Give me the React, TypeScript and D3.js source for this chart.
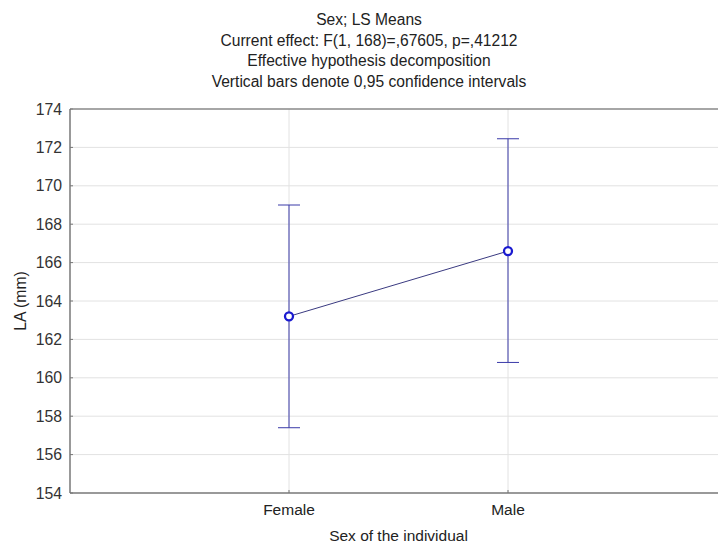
import React from "react";
import * as d3 from "d3";

const categories = ["Female", "Male"];
const means = [163.2, 166.6];
const lower = [157.4, 160.8];
const upper = [169.0, 172.45];
const yTicks = [154, 156, 158, 160, 162, 164, 166, 168, 170, 172, 174];
const titleLines = [
  "Sex; LS Means",
  "Current effect: F(1, 168)=,67605, p=,41212",
  "Effective hypothesis decomposition",
  "Vertical bars denote 0,95 confidence intervals",
];

const W = 718;
const H = 545;
const left = 70;
const right = 727;
const top = 109;
const bottom = 493;
const FONT = "'Liberation Sans', Arial, sans-serif";

export default function App() {
  const x = d3.scalePoint<string>().domain(categories).range([left, right]).padding(1);
  const y = d3.scaleLinear().domain([154, 174]).range([bottom, top]);
  const line = d3
    .line<number>()
    .x((_, i) => x(categories[i]) as number)
    .y((d) => y(d));

  return (
    <svg
      width={W}
      height={H}
      style={{ position: "absolute", left: 0, top: 0, background: "#fff" }}
      fontFamily={FONT}
    >
      <rect x={0} y={0} width={W} height={H} fill="#fff" />
      {titleLines.map((t, i) => (
        <text key={i} x={369} y={25 + i * 20.7} textAnchor="middle" fontSize={15.6} fill="#222">
          {t}
        </text>
      ))}
      {/* horizontal gridlines */}
      {yTicks.map((t) => (
        <g key={t}>
          {t !== 154 && t !== 174 && (
            <line x1={left} x2={W} y1={y(t)} y2={y(t)} stroke="#e2e2e2" strokeWidth={1} />
          )}
          <line x1={left} x2={left + 3} y1={y(t)} y2={y(t)} stroke="#777" strokeWidth={1} />
          <text x={62} y={y(t) + 5.5} textAnchor="end" fontSize={15.8} fill="#333">
            {t}
          </text>
        </g>
      ))}
      {/* vertical gridlines */}
      {categories.map((c) => (
        <g key={c}>
          <line x1={x(c)} x2={x(c)} y1={top} y2={bottom} stroke="#e2e2e2" strokeWidth={1} />
          <line x1={x(c)} x2={x(c)} y1={bottom} y2={bottom - 3} stroke="#777" strokeWidth={1} />
          <text x={x(c)} y={515} textAnchor="middle" fontSize={15.5} fill="#222">
            {c}
          </text>
        </g>
      ))}
      {/* frame */}
      <line x1={left} x2={W} y1={top} y2={top} stroke="#888" strokeWidth={1.5} />
      <line x1={left} x2={W} y1={bottom} y2={bottom} stroke="#777" strokeWidth={1.5} />
      <line x1={left} x2={left} y1={top} y2={bottom} stroke="#777" strokeWidth={1.5} />
      {/* error bars */}
      {categories.map((c, i) => {
        const cx = x(c) as number;
        return (
          <g key={c} stroke="#3a3aa8" strokeWidth={1}>
            <line x1={cx} x2={cx} y1={y(upper[i])} y2={y(lower[i])} />
            <line x1={cx - 11} x2={cx + 11} y1={y(upper[i])} y2={y(upper[i])} />
            <line x1={cx - 11} x2={cx + 11} y1={y(lower[i])} y2={y(lower[i])} />
          </g>
        );
      })}
      <path d={line(means) as string} fill="none" stroke="#3a3a80" strokeWidth={1} />
      {categories.map((c, i) => (
        <circle key={c} cx={x(c)} cy={y(means[i])} r={4} fill="#fff" stroke="#1a1ad0" strokeWidth={2.3} />
      ))}
      <text x={26} y={(top + bottom) / 2} textAnchor="middle" fontSize={15.8} fill="#222"
        transform={`rotate(-90, 26, ${(top + bottom) / 2})`}>
        LA (mm)
      </text>
      <text x={(left + right) / 2} y={541} textAnchor="middle" fontSize={15.5} fill="#222">
        Sex of the individual
      </text>
    </svg>
  );
}
